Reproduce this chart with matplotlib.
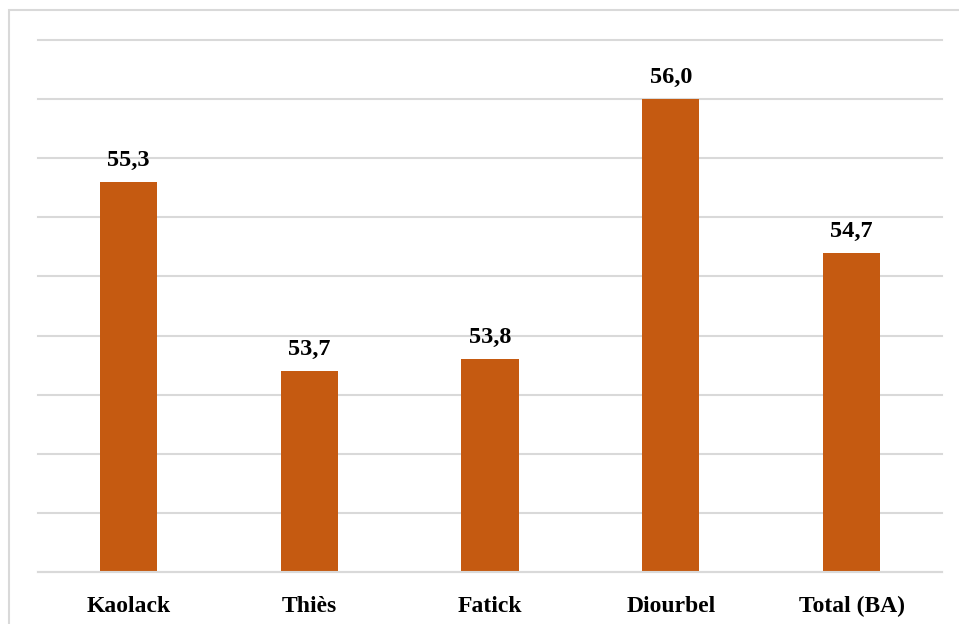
import matplotlib.pyplot as plt
from matplotlib.patches import Rectangle

categories = ["Kaolack", "Thiès", "Fatick", "Diourbel", "Total (BA)"]
values = [55.3, 53.7, 53.8, 56.0, 54.7]
labels = ["55,3", "53,7", "53,8", "56,0", "54,7"]

W, H = 959, 624
fig = plt.figure(figsize=(W / 100, H / 100), dpi=100)
fig.patch.set_facecolor("white")

# light frame around the chart area
fig.patches.append(Rectangle((9 / W, -0.1), 1.2, (H - 10) / H + 0.1,
                             transform=fig.transFigure, fill=False,
                             edgecolor="#d9d9d9", linewidth=1.5))

left, right = 38 / W, 942 / W
bottom, top = (H - 572) / H, (H - 40) / H
ax = fig.add_axes([left, bottom, right - left, top - bottom])

ymin, ymax = 52.0, 56.5
x = range(len(categories))
ax.bar(x, values, width=0.316, bottom=0, color="#C55A11", zorder=3)
ax.set_ylim(ymin, ymax)
ax.set_xlim(-0.5, len(categories) - 0.5)

ax.set_yticks([ymin + 0.5 * i for i in range(10)])
ax.yaxis.grid(True, color="#d9d9d9", linewidth=1.5, zorder=0)
for gl in ax.get_ygridlines():
    gl.set_clip_on(False)
ax.tick_params(axis="y", left=False, labelleft=False)
ax.tick_params(axis="x", bottom=False, pad=14)
for s in ["left", "right", "top"]:
    ax.spines[s].set_visible(False)
ax.spines["bottom"].set_color("#d9d9d9")
ax.spines["bottom"].set_linewidth(1.5)
ax.spines["bottom"].set_zorder(4)

ax.set_xticks(list(x))
ax.set_xticklabels(categories, fontfamily="Liberation Serif",
                   fontweight="bold", fontsize=17)

for xi, v, lab in zip(x, values, labels):
    ax.annotate(lab, (xi, v), xytext=(0, 16), textcoords="offset pixels",
                ha="center", va="baseline", fontfamily="Liberation Serif",
                fontweight="bold", fontsize=17.5, zorder=5)

fig.savefig("out.png", dpi=100)
